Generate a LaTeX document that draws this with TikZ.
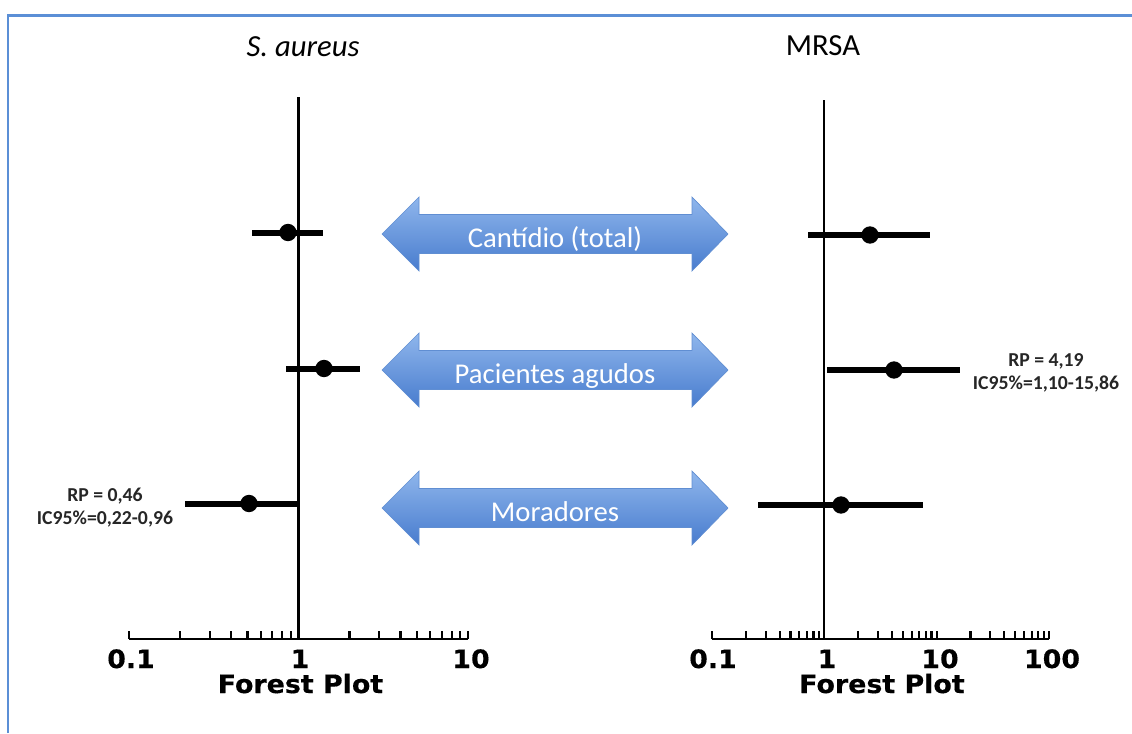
\documentclass[tikz,border=0pt]{standalone}
\usepackage{fontspec}
\setmainfont{Carlito}
\newfontfamily\axisfont{DejaVu Sans}[BoldFeatures={FakeBold=0.4,FakeStretch=1.06}]
\definecolor{framecol}{RGB}{91,143,214}
\definecolor{bantop}{RGB}{143,182,236}
\definecolor{banbot}{RGB}{72,124,206}
\definecolor{banedge}{RGB}{96,142,210}
\begin{document}
\begin{tikzpicture}[x=0.75pt,y=-0.75pt,
  frameline/.style={draw=framecol,line width=1.6pt},
  refline/.style={line width=2.2pt},
  ciline/.style={line width=4.5pt},
  axisline/.style={line width=2.2pt},
  tickmark/.style={line width=1.6pt},
  dotmark/.style={circle,fill=black,inner sep=0pt,minimum size=13pt},
  axislab/.style={font=\axisfont\bfseries\fontsize{19}{22}\selectfont,anchor=base,inner sep=0pt},
  plottitle/.style={font=\fontsize{23}{28}\selectfont,anchor=base,inner sep=0pt},
  banner/.style={top color=bantop,bottom color=banbot,draw=banedge,line width=0.5pt},
  bannertext/.style={text=white,font=\fontsize{21.5}{26}\selectfont,anchor=base,inner sep=0pt},
  stat/.style={text=black!85,font=\bfseries\fontsize{14.8}{17.3}\selectfont,align=center,inner sep=0pt}]
\useasboundingbox (0,0) rectangle (1132,733);
% frame (only top and left edges visible)
\coordinate (FB) at (8,733);
\coordinate (FC) at (8,15.5);
\coordinate (FR) at (1132,15.5);
\draw[frameline] (FB) -- (FC) -- (FR);

% titles
\node[plottitle] (tSA) at (303,56) {\itshape S. aureus};
\node[plottitle] (tMR) at (823,55) {MRSA};

% ---------------- left plot ----------------
\coordinate (LA0) at (129,639);
\coordinate (LA1) at (468,639);
\draw[axisline] (LA0) -- (LA1);
\foreach \d in {0,1} \foreach \k in {1,...,9} {
  \pgfmathsetmacro\xx{129+169.5*(\d+ln(\k)/ln(10))}
  \draw[tickmark] (\xx,639) -- (\xx,631);
}
\draw[tickmark] (468,639) -- (468,631);
\coordinate (LRtop) at (298.5,97);
\coordinate (LRbot) at (298.5,639);
\draw[refline] (LRtop) -- (LRbot);
\node[axislab] (lx1) at (131,668) {0.1};
\node[axislab] (lx2) at (300,668) {1};
\node[axislab] (lx3) at (471,668) {10};
\node[axislab] (lxt) at (300.5,693) {Forest Plot};

% left estimates
\coordinate (l1a) at (252,232.5); \coordinate (l1b) at (323,232.5);
\draw[ciline] (l1a) -- (l1b);
\node[dotmark] (l1) at (288,232.5) {};
\coordinate (l2a) at (286,368.5); \coordinate (l2b) at (360,368.5);
\draw[ciline] (l2a) -- (l2b);
\node[dotmark] (l2) at (324,368.5) {};
\coordinate (l3a) at (185,503.5); \coordinate (l3b) at (298,503.5);
\draw[ciline] (l3a) -- (l3b);
\node[dotmark] (l3) at (249,503.5) {};
\node[stat] (s1) at (105,507.5) {RP = 0,46\\IC95\%=0,22-0,96};

% ---------------- right plot ----------------
\coordinate (RA0) at (712,639);
\coordinate (RA1) at (1049,639);
\draw[axisline] (RA0) -- (RA1);
\foreach \d in {0,1,2} \foreach \k in {1,...,9} {
  \pgfmathsetmacro\xx{712+112.33*(\d+ln(\k)/ln(10))}
  \draw[tickmark] (\xx,639) -- (\xx,631);
}
\draw[tickmark] (1049,639) -- (1049,631);
\coordinate (RRtop) at (824,100);
\coordinate (RRbot) at (824,639);
\draw[refline] (RRtop) -- (RRbot);
\node[axislab] (rx1) at (713,668) {0.1};
\node[axislab] (rx2) at (827,668) {1};
\node[axislab] (rx3) at (940,668) {10};
\node[axislab] (rx4) at (1052,668) {100};
\node[axislab] (rxt) at (882,693) {Forest Plot};

% right estimates
\coordinate (r1a) at (808,235); \coordinate (r1b) at (930,235);
\draw[ciline] (r1a) -- (r1b);
\node[dotmark] (r1) at (870,235) {};
\coordinate (r2a) at (827,370); \coordinate (r2b) at (960,370);
\draw[ciline] (r2a) -- (r2b);
\node[dotmark] (r2) at (894,370) {};
\coordinate (r3a) at (758,505); \coordinate (r3b) at (923,505);
\draw[ciline] (r3a) -- (r3b);
\node[dotmark] (r3) at (841,505) {};
\node[stat] (s2) at (1046,372.5) {RP = 4,19\\IC95\%=1,10-15,86};

% ---------------- double arrows ----------------
\foreach \yc/\nm/\txt in {234/b1/{Cantídio (total)},370/b2/{Pacientes agudos},508/b3/{Moradores}} {
  \path[banner] (382,\yc) -- (419,\yc-37) -- (419,\yc-19.5) -- (692,\yc-19.5) -- (692,\yc-37)
     -- (728,\yc) -- (692,\yc+37) -- (692,\yc+19.5) -- (419,\yc+19.5) -- (419,\yc+37) -- cycle;
  \node[bannertext] (\nm) at (555,\yc+13) {\txt};
}
\end{tikzpicture}
\end{document}
